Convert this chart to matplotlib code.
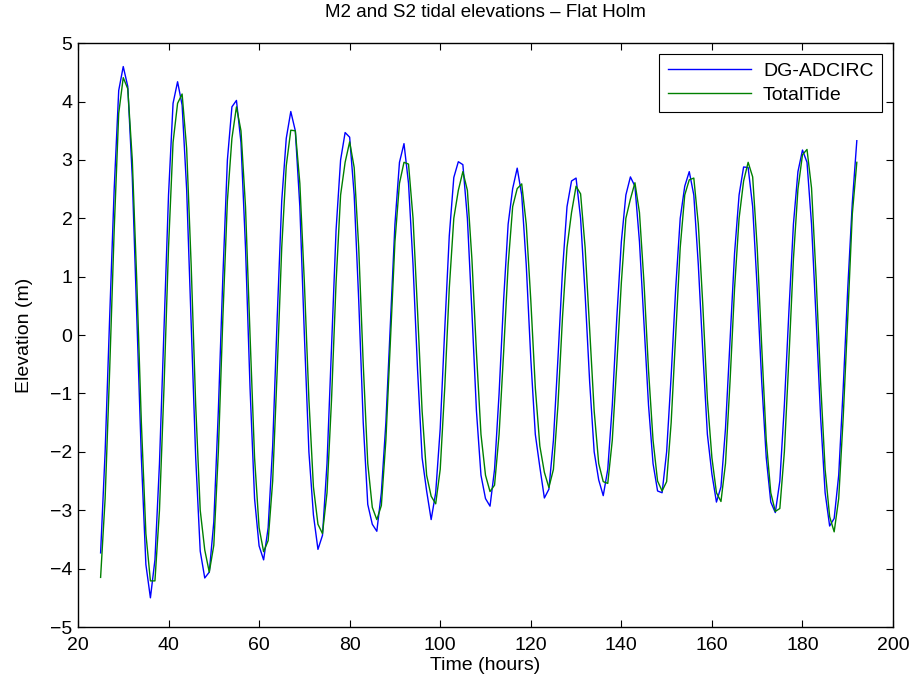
import numpy as np
import matplotlib
matplotlib.use("Agg")
import matplotlib.pyplot as plt

# heures de simulation (pas horaire)
hours = np.arange(25, 193)

# élévation DG-ADCIRC (m)
dg_adcirc = [
    -3.73, -2.0, 0.3, 2.5, 4.19, 4.60, 4.26, 2.7, 0.3, -2.1, -3.93, -4.50,
    -3.85, -2.2, 0.1, 2.4, 3.97, 4.34, 3.94, 2.5, 0.2, -2.1, -3.7, -4.16,
    -4.06, -3.2, -1.3, 1.0, 3.0, 3.91, 4.02, 3.3, 1.5, -0.9, -2.8, -3.61,
    -3.85, -3.3, -1.9, 0.3, 2.3, 3.37, 3.83, 3.50, 2.2, 0.0, -2.0, -3.08,
    -3.67, -3.43, -2.2, -0.2, 1.8, 3.0, 3.47, 3.39, 2.4, 0.6, -1.5, -2.9,
    -3.24, -3.36, -2.7, -1.5, 0.2, 1.9, 2.96, 3.28, 2.6, 1.2, -0.6, -2.1,
    -2.67, -3.16, -2.7, -1.6, 0.1, 1.7, 2.7, 2.97, 2.92, 2.0, 0.4, -1.3,
    -2.4, -2.80, -2.93, -2.3, -1.0, 0.6, 1.9, 2.51, 2.86, 2.4, 1.2, -0.4,
    -1.7, -2.26, -2.79, -2.64, -1.8, -0.4, 1.1, 2.2, 2.64, 2.69, 2.0, 0.7,
    -0.8, -2.0, -2.48, -2.75, -2.3, -1.2, 0.3, 1.6, 2.4, 2.71, 2.55, 1.6,
    0.2, -1.2, -2.2, -2.67, -2.70, -2.0, -0.7, 0.8, 2.0, 2.55, 2.80, 2.4,
    1.2, -0.3, -1.7, -2.38, -2.86, -2.6, -1.6, -0.1, 1.4, 2.4, 2.88, 2.87,
    2.2, 0.8, -0.8, -2.1, -2.86, -3.04, -2.5, -1.2, 0.4, 1.9, 2.80, 3.17,
    2.96, 1.9, 0.3, -1.4, -2.7, -3.27, -3.14, -2.4, -0.9, 0.8, 2.26, 3.33,
]

# élévation TotalTide (m)
total_tide = [
    -4.15, -2.8, -0.6, 1.8, 3.8, 4.41, 4.22, 3.0, 0.9, -1.5, -3.4, -4.21,
    -4.21, -3.0, -0.9, 1.5, 3.3, 3.97, 4.13, 3.2, 1.2, -1.2, -3.0, -3.68,
    -4.06, -3.6, -2.0, 0.3, 2.3, 3.37, 3.91, 3.50, 2.2, 0.0, -2.1, -3.3,
    -3.71, -3.52, -2.5, -0.6, 1.5, 2.9, 3.51, 3.50, 2.6, 0.9, -1.1, -2.6,
    -3.24, -3.40, -2.7, -1.1, 0.9, 2.4, 2.96, 3.31, 2.87, 1.5, -0.5, -2.2,
    -2.95, -3.16, -2.92, -1.8, -0.1, 1.6, 2.6, 2.96, 2.93, 2.0, 0.4, -1.3,
    -2.4, -2.76, -2.89, -2.3, -0.9, 0.8, 2.0, 2.48, 2.80, 2.48, 1.3, -0.3,
    -1.7, -2.4, -2.68, -2.57, -1.7, -0.3, 1.2, 2.2, 2.51, 2.59, 1.9, 0.6,
    -0.9, -1.9, -2.35, -2.61, -2.3, -1.2, 0.3, 1.5, 2.1, 2.55, 2.42, 1.5,
    0.1, -1.3, -2.2, -2.51, -2.54, -1.8, -0.5, 0.9, 2.0, 2.33, 2.61, 2.1,
    0.9, -0.6, -1.8, -2.5, -2.67, -2.51, -1.5, 0.0, 1.5, 2.4, 2.66, 2.69,
    1.9, 0.5, -1.1, -2.1, -2.70, -2.85, -2.2, -0.8, 0.8, 2.0, 2.64, 2.96,
    2.71, 1.5, -0.2, -1.8, -2.7, -3.02, -2.97, -2.0, -0.4, 1.3, 2.5, 3.09,
    3.18, 2.52, 1.0, -0.8, -2.3, -3.11, -3.37, -2.8, -1.4, 0.3, 2.07, 2.96,
]

plt.rcParams['font.family'] = ['Liberation Sans', 'DejaVu Sans']

fig = plt.figure(figsize=(9.15, 6.86), dpi=100)
ax = fig.add_axes([0.0852, 0.086, 0.8908, 0.851])

ax.plot(hours, dg_adcirc, color=(0, 0, 1), lw=1.0, label="DG-ADCIRC")
ax.plot(hours, total_tide, color=(0, 0.5, 0), lw=1.0, label="TotalTide")

ax.set_xlim(20, 200)
ax.set_ylim(-5, 5)
ax.set_xticks(np.arange(20, 201, 20))
ax.set_yticks(np.arange(-5, 6, 1))
ax.tick_params(direction='in', top=True, right=True, length=5, width=0.8,
               labelsize=14)
ax.tick_params(axis='x', pad=7)
ax.tick_params(axis='y', pad=4)
for s in ax.spines.values():
    s.set_linewidth(1.0)

ax.set_xlabel("Time (hours)", fontsize=14, labelpad=2)
ax.set_ylabel("Elevation (m)", fontsize=14, labelpad=12)
ax.set_title("M2 and S2 tidal elevations – Flat Holm", fontsize=13.5, pad=19)

leg = ax.legend(loc='upper right', fontsize=14, handlelength=4.3,
                fancybox=False, framealpha=1, edgecolor='black',
                borderaxespad=0.55, borderpad=0.45, labelspacing=0.3,
                handletextpad=0.6)
leg.get_frame().set_linewidth(0.8)

fig.savefig("out.png", dpi=100)
